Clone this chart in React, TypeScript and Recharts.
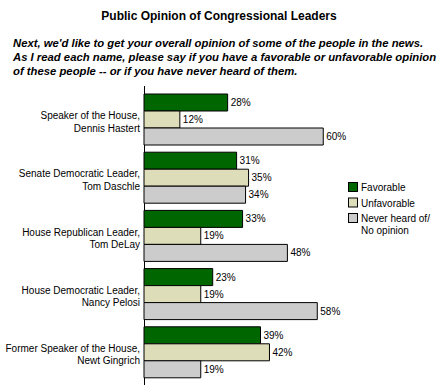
import { BarChart, Bar, XAxis, YAxis, LabelList } from "recharts";

const leaders = [
  "Speaker of the House, Dennis Hastert",
  "Senate Democratic Leader, Tom Daschle",
  "House Republican Leader, Tom DeLay",
  "House Democratic Leader, Nancy Pelosi",
  "Former Speaker of the House, Newt Gingrich",
];
const favorable = [28, 31, 33, 23, 39];
const unfavorable = [12, 35, 19, 19, 42];
const neverHeard = [60, 34, 48, 58, 19];

const data = leaders.map((name, i) => ({
  name,
  favorable: favorable[i],
  unfavorable: unfavorable[i],
  neverHeard: neverHeard[i],
}));

const FONT = "'Liberation Sans', Arial, Helvetica, sans-serif";

const legendItems = [
  { label: ["Favorable"], color: "#006600" },
  { label: ["Unfavorable"], color: "#deddb9" },
  { label: ["Never heard of/", "No opinion"], color: "#cccccc" },
];

function LeaderTick(props: any) {
  const { x, y, payload } = props;
  const value: string = payload.value;
  const cut = value.lastIndexOf(", ");
  const line1 = value.slice(0, cut + 1);
  const line2 = value.slice(cut + 2);
  return (
    <text x={x + 4} y={y} textAnchor="end" fontSize={10} fill="#000" fontFamily={FONT}>
      <tspan x={x + 4} dy={0}>{line1}</tspan>
      <tspan x={x + 4} dy={12.5}>{line2}</tspan>
    </text>
  );
}

const pct = (v: any) => `${v}%`;

export default function App() {
  return (
    <div style={{ position: "absolute", left: 0, top: 0, width: 440, height: 391, background: "#fff", fontFamily: FONT }}>
      <svg width={440} height={391} style={{ position: "absolute", left: 0, top: 0 }}>
        <text x={219} y={20} textAnchor="middle" fontSize={12} fontWeight="bold" fontFamily={FONT}>
          Public Opinion of Congressional Leaders
        </text>
        <text fontSize={11.3} fontWeight="bold" fontStyle="italic" fontFamily={FONT}>
          <tspan x={13} y={47}>Next, we'd like to get your overall opinion of some of the people in the news.</tspan>
          <tspan x={13} y={61}>As I read each name, please say if you have a favorable or unfavorable opinion</tspan>
          <tspan x={13} y={75}>of these people -- or if you have never heard of them.</tspan>
        </text>
        {legendItems.map((item, i) => (
          <g key={i}>
            <rect x={348.5} y={182.5 + i * 15.5} width={9} height={9} fill={item.color} stroke="#000" />
            {item.label.map((l, j) => (
              <text key={j} x={361} y={191 + i * 15.5 + j * 12} fontSize={10} fontFamily={FONT}>
                {l}
              </text>
            ))}
          </g>
        ))}
        <line x1={144.5} x2={144.5} y1={86} y2={385} stroke="#000" />
      </svg>
      <div style={{ position: "absolute", left: 0, top: 0 }}>
        <BarChart
          width={440}
          height={391}
          data={data}
          layout="vertical"
          margin={{ top: 90, right: 57, bottom: 10, left: 0 }}
          barGap={0}
          barSize={17}
        >
          <XAxis type="number" domain={[0, 80]} hide />
          <YAxis
            type="category"
            dataKey="name"
            width={144}
            axisLine={false}
            tickLine={false}
            tick={<LeaderTick />}
            interval={0}
          />
          <Bar dataKey="favorable" fill="#006600" stroke="#000" strokeWidth={1} isAnimationActive={false}>
            <LabelList dataKey="favorable" position="right" offset={3} formatter={pct} fontSize={10} fill="#000" fontFamily={FONT} />
          </Bar>
          <Bar dataKey="unfavorable" fill="#deddb9" stroke="#000" strokeWidth={1} isAnimationActive={false}>
            <LabelList dataKey="unfavorable" position="right" offset={3} formatter={pct} fontSize={10} fill="#000" fontFamily={FONT} />
          </Bar>
          <Bar dataKey="neverHeard" fill="#cccccc" stroke="#000" strokeWidth={1} isAnimationActive={false}>
            <LabelList dataKey="neverHeard" position="right" offset={3} formatter={pct} fontSize={10} fill="#000" fontFamily={FONT} />
          </Bar>
        </BarChart>
      </div>
    </div>
  );
}
